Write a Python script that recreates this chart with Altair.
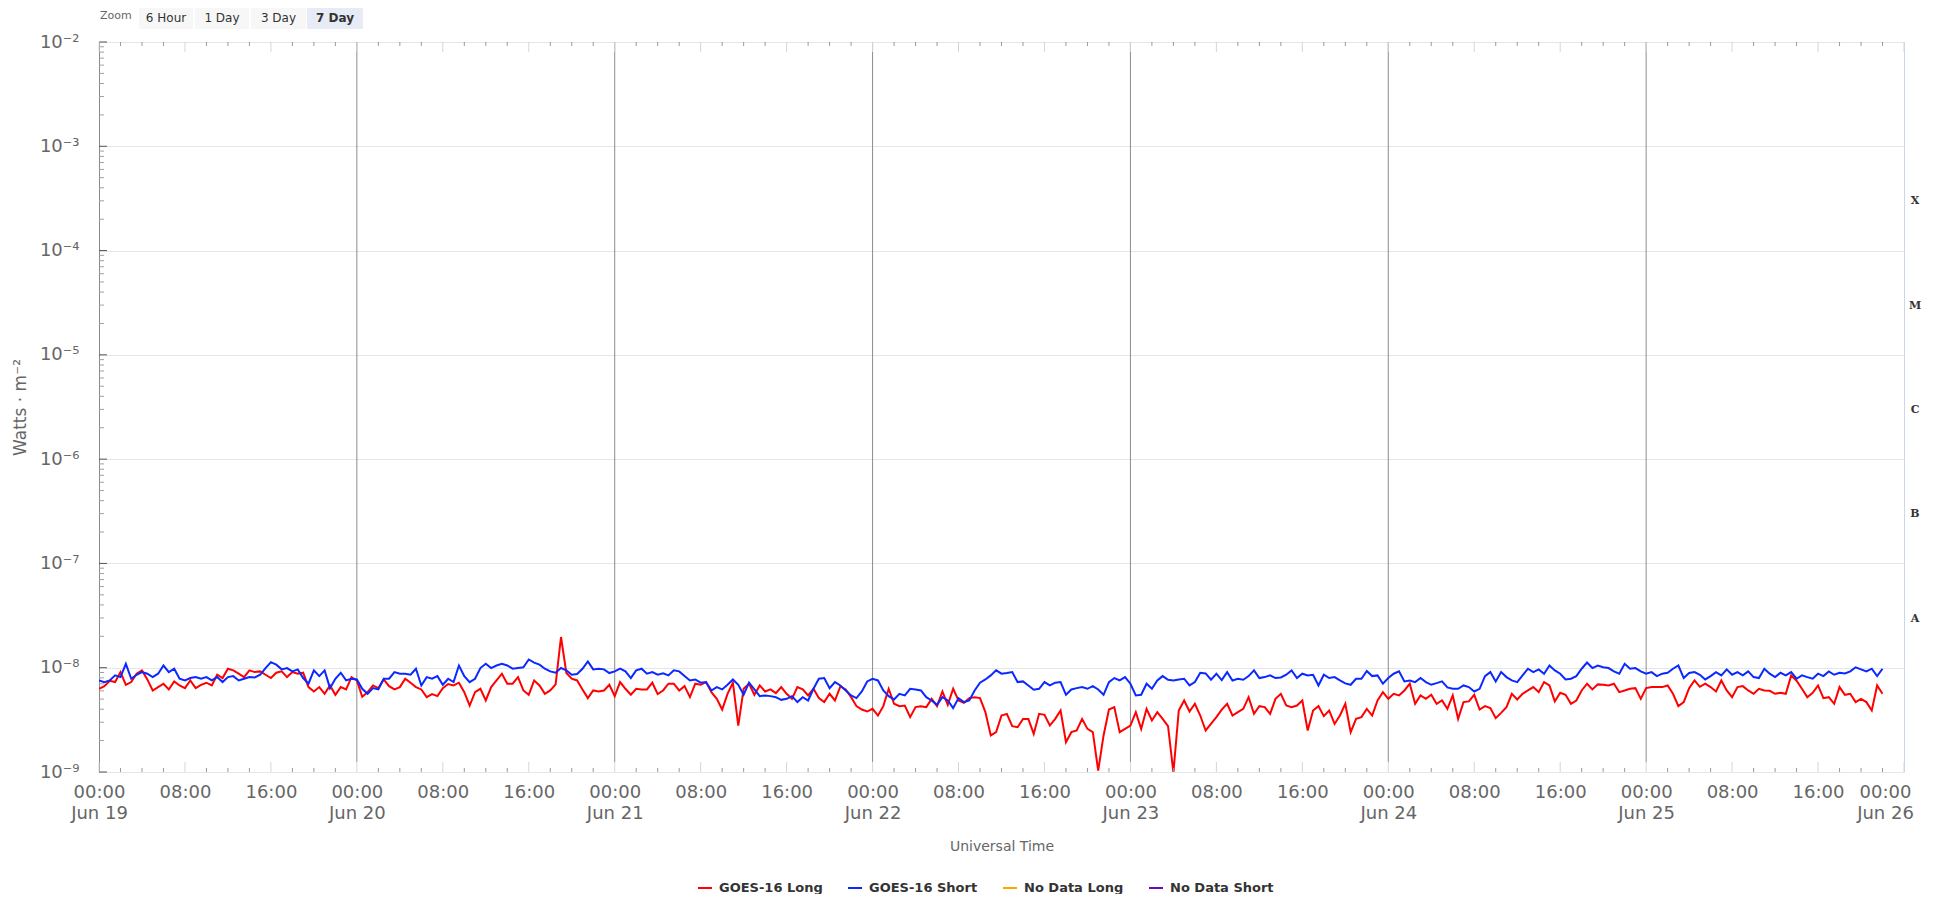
import altair as alt
import pandas as pd

# ---------------- data (X-ray flux, units of 1e-9 W/m^2, 30-minute steps from Jun 19 00:00 UTC) -------------
long_nw = [
    6.28, 6.66, 7.50, 7.28, 9.08, 6.86, 7.28, 8.76, 9.43, 7.72,
    6.05, 6.52, 7.02, 6.19, 7.39, 6.76, 6.37, 7.55, 6.37, 6.86,
    7.18, 6.76, 8.56, 7.96, 9.78, 9.43, 8.76, 8.13, 9.43, 9.08,
    9.22, 8.56, 7.96, 8.95, 9.22, 8.13, 9.08, 8.76, 8.95, 6.52,
    5.92, 6.52, 5.62, 6.76, 5.50, 6.52, 6.19, 8.13, 7.55, 5.26,
    5.83, 6.76, 6.37, 7.72, 6.66, 6.19, 6.52, 7.84, 7.18, 6.52,
    6.19, 5.22, 5.58, 5.34, 6.37, 6.97, 6.76, 7.18, 5.83, 4.34,
    5.83, 6.28, 4.85, 6.52, 7.55, 8.76, 7.02, 7.02, 8.13, 6.05,
    5.50, 7.55, 6.76, 5.62, 6.05, 6.92, 19.7, 8.89, 7.84, 7.55,
    6.19, 5.11, 6.05, 5.92, 6.05, 6.86, 5.34, 7.28, 6.28, 5.50,
    6.28, 6.19, 6.19, 7.18, 5.58, 6.05, 7.02, 7.02, 6.05, 6.66,
    5.22, 7.02, 6.86, 7.28, 5.83, 5.03, 3.97, 5.62, 7.18, 2.79,
    6.28, 7.02, 5.50, 6.76, 5.92, 6.19, 5.71, 6.52, 5.62, 5.03,
    6.52, 6.19, 5.42, 6.28, 5.11, 4.68, 5.62, 4.85, 6.61, 6.19,
    5.22, 4.28, 3.97, 3.80, 4.03, 3.48, 4.28, 6.28, 4.51, 4.28,
    4.34, 3.36, 4.19, 4.28, 4.19, 5.03, 4.28, 5.92, 4.41, 6.28,
    4.85, 4.61, 5.11, 5.22, 5.11, 3.75, 2.24, 2.41, 3.48, 3.61,
    2.75, 2.69, 3.23, 3.23, 2.32, 3.61, 3.53, 2.79, 3.23, 3.89,
    1.93, 2.41, 2.50, 3.23, 2.59, 2.41, 1.03, 2.24, 3.97, 4.19,
    2.41, 2.59, 2.79, 3.75, 2.59, 4.03, 3.12, 3.75, 3.23, 2.75,
    0.99, 3.89, 4.85, 3.80, 4.51, 3.48, 2.50, 2.89, 3.36, 3.97,
    4.51, 3.48, 3.75, 4.03, 5.22, 3.61, 4.28, 4.19, 3.61, 5.03,
    5.62, 4.34, 4.19, 4.34, 4.85, 2.50, 3.89, 4.28, 3.43, 3.89,
    2.89, 3.48, 4.51, 2.41, 3.23, 3.36, 4.03, 3.48, 4.85, 5.83,
    5.03, 5.62, 5.42, 6.05, 7.02, 4.51, 5.42, 5.03, 5.50, 4.51,
    4.85, 4.03, 5.42, 3.23, 4.68, 4.75, 5.50, 3.97, 4.28, 4.10,
    3.28, 3.69, 4.19, 5.62, 4.96, 5.62, 6.05, 6.52, 5.83, 7.28,
    6.76, 4.75, 5.75, 5.50, 4.51, 4.85, 6.05, 7.02, 6.19, 6.92,
    6.86, 6.76, 7.02, 5.83, 6.05, 6.28, 6.37, 5.03, 6.37, 6.52,
    6.52, 6.52, 6.76, 5.62, 4.28, 4.68, 6.37, 7.55, 6.56, 7.02,
    6.52, 5.92, 7.55, 6.05, 5.22, 6.52, 6.66, 6.05, 5.62, 6.28,
    6.05, 6.01, 5.62, 5.75, 5.62, 8.44, 7.50, 6.28, 5.22, 5.75,
    6.76, 5.11, 5.22, 4.51, 6.52, 5.50, 5.62, 4.68, 5.03, 4.68,
    3.89, 6.76, 5.62,
]

short_nw = [
    7.55, 7.28, 7.55, 8.44, 8.13, 10.9, 7.84, 8.56, 9.08, 8.76,
    8.13, 8.76, 10.5, 9.08, 9.78, 7.84, 7.55, 7.96, 8.13, 7.84,
    8.13, 7.55, 8.13, 7.28, 8.13, 8.31, 7.55, 7.84, 8.13, 8.07,
    8.56, 9.93, 11.3, 10.7, 9.64, 9.93, 9.22, 9.64, 7.96, 7.02,
    9.43, 8.31, 9.43, 6.37, 7.84, 8.95, 7.55, 7.84, 7.72, 6.28,
    5.62, 6.37, 6.19, 7.84, 7.84, 9.08, 8.76, 8.76, 8.56, 9.78,
    6.76, 8.13, 7.84, 8.31, 6.86, 7.84, 7.28, 10.5, 8.31, 7.28,
    7.84, 9.93, 10.9, 9.93, 10.5, 10.9, 10.5, 9.78, 9.93, 10.1,
    12.0, 11.2, 10.7, 9.78, 9.22, 8.95, 9.93, 9.43, 8.56, 8.69,
    9.78, 11.5, 9.64, 9.78, 9.64, 8.89, 9.22, 9.78, 9.22, 7.96,
    9.43, 9.78, 8.76, 9.08, 8.56, 8.82, 8.44, 9.43, 9.22, 8.31,
    7.55, 7.72, 7.18, 7.28, 6.05, 6.52, 6.19, 6.86, 7.72, 6.86,
    5.50, 7.18, 6.19, 5.34, 5.42, 5.34, 5.22, 4.92, 5.03, 5.34,
    4.68, 5.22, 4.85, 6.28, 7.84, 7.96, 6.37, 7.28, 6.76, 6.05,
    5.42, 5.11, 5.92, 7.39, 7.84, 7.55, 6.05, 5.34, 4.96, 5.62,
    5.42, 6.28, 6.19, 6.05, 5.22, 4.85, 4.41, 5.22, 4.85, 4.10,
    5.11, 4.68, 4.85, 6.05, 7.18, 7.72, 8.44, 9.43, 8.76, 8.89,
    9.08, 7.28, 7.39, 6.76, 6.14, 6.28, 7.28, 6.76, 7.18, 7.28,
    5.50, 6.19, 6.37, 6.52, 6.28, 6.66, 6.19, 5.50, 7.28, 7.96,
    7.55, 8.13, 7.02, 5.42, 5.50, 7.02, 6.28, 7.55, 8.31, 7.67,
    7.55, 7.72, 7.84, 6.76, 7.28, 8.95, 8.82, 7.67, 8.76, 7.61,
    9.08, 7.55, 7.84, 7.67, 8.31, 9.43, 7.96, 8.13, 8.44, 7.96,
    8.07, 8.56, 9.43, 7.96, 8.76, 8.44, 8.56, 6.76, 8.56, 7.96,
    8.13, 7.55, 7.07, 6.86, 7.84, 7.84, 9.29, 8.31, 8.44, 7.02,
    7.96, 8.76, 9.22, 7.39, 7.55, 7.28, 7.96, 7.28, 6.86, 7.12,
    7.39, 6.47, 6.28, 6.28, 6.76, 6.52, 5.92, 6.28, 8.31, 9.08,
    7.39, 9.08, 8.13, 7.55, 7.28, 8.44, 9.78, 9.08, 9.64, 8.76,
    10.5, 9.43, 8.76, 7.72, 7.84, 8.31, 9.78, 11.2, 9.93, 10.5,
    10.1, 9.93, 9.22, 8.76, 10.9, 9.78, 9.93, 9.22, 8.76, 9.08,
    8.31, 8.76, 8.95, 9.78, 10.5, 7.96, 8.89, 9.08, 8.56, 7.72,
    8.31, 9.08, 8.44, 9.64, 8.56, 9.08, 8.44, 9.22, 8.13, 7.96,
    9.78, 8.76, 8.13, 8.95, 8.44, 9.08, 7.84, 8.44, 8.13, 7.84,
    8.76, 8.31, 9.22, 8.56, 8.95, 8.82, 9.22, 10.1, 9.64, 9.22,
    9.78, 8.31, 9.78,
]

SERIES = ["GOES-16 Long", "GOES-16 Short", "No Data Long", "No Data Short"]
COLORS = ["#ff0000", "#0a28ff", "#ffa500", "#6a0dad"]
FLARE_CLASSES = ["A", "B", "C", "M", "X"]
CLASS_FLUX = [10 ** -7.5, 10 ** -6.5, 10 ** -5.5, 10 ** -4.5, 10 ** -3.5]
DECADES = [1e-9, 1e-8, 1e-7, 1e-6, 1e-5, 1e-4, 1e-3, 1e-2]
Y_TITLE = "Watts · m⁻²"
X_TITLE = "Universal Time"
BUTTONS = ["6 Hour", "1 Day", "3 Day", "7 Day"]

# ---------------- tables ----------------
times = pd.date_range("2023-06-19 00:00", periods=len(long_nw), freq="30min")
tstr = [t.strftime("%Y-%m-%dT%H:%M:%SZ") for t in times]
df = pd.DataFrame({
    "time": tstr * 2,
    "flux": [v * 1e-9 for v in long_nw] + [v * 1e-9 for v in short_nw],
    "series": [SERIES[0]] * len(long_nw) + [SERIES[1]] * len(short_nw),
})

day_times = [t.strftime("%Y-%m-%dT%H:%M:%SZ") for t in pd.date_range("2023-06-20", periods=6, freq="1D")]
day_df = pd.DataFrame({"time": day_times, "flux": [1.25e-9] * 6, "hi": [1e-2] * 6})

major_x = [t.strftime("%Y-%m-%dT%H:%M:%SZ") for t in pd.date_range("2023-06-19", "2023-06-26", freq="8h")]
minor_x = [t.strftime("%Y-%m-%dT%H:%M:%SZ") for t in pd.date_range("2023-06-19", "2023-06-26", freq="2h")]
minor_x = [t for t in minor_x if t not in major_x]
minor_y = [m * 10 ** d for d in range(-9, -2) for m in range(2, 10)]

W, H = 1805, 730
FONT = "DejaVu Sans"

xscale = alt.Scale(type="utc",
                   domain=[alt.DateTime(year=2023, month=6, date=19, utc=True),
                           alt.DateTime(year=2023, month=6, date=26, utc=True)])
yscale = alt.Scale(type="log", domain=[1e-9, 1e-2])

x_axis = alt.Axis(
    values=[alt.DateTime(year=2023, month=6, date=19 + h // 24, hours=h % 24, utc=True) for h in range(0, 169, 8)],
    labelExpr="utchours(datum.value) == 0 ? [utcFormat(datum.value, '%H:%M'), utcFormat(datum.value, '%b %d')] : utcFormat(datum.value, '%H:%M')",
    labelFont=FONT, labelFontSize=18, labelColor="#666666", labelLineHeight=21,
    labelPadding=11, labelOverlap=False, labelFlush=False, ticks=False, domain=False, grid=False,
    labelOffset={"condition": {"test": "utcdate(datum.value) == 26", "value": -19}, "value": 0},
    title=X_TITLE, titleFont=FONT, titleFontSize=14, titleFontWeight="normal",
    titleColor="#666666", titlePadding=17,
)
y_axis = alt.Axis(
    values=DECADES,
    labelExpr="'10' + ['⁻⁹','⁻⁸','⁻⁷','⁻⁶','⁻⁵','⁻⁴','⁻³','⁻²'][round(log(datum.value) / LN10) + 9]",
    labelFont=FONT, labelFontSize=18, labelColor="#666666", labelPadding=20,
    labelOverlap=False, ticks=False, domain=True, domainColor="#8a8a8a",
    grid=True, gridColor="#e6e6e6",
    title=Y_TITLE, titleFont=FONT, titleFontSize=17, titleFontWeight="normal",
    titleColor="#666666", titlePadding=10,
)

X = alt.X("time:T", scale=xscale, axis=x_axis)
Yf = alt.Y("flux:Q", scale=yscale, axis=y_axis)

daylines = alt.Chart(day_df).mark_rule(color="#8c8c8c", strokeWidth=1).encode(
    x=X, y=Yf, y2="hi:Q",
)

lines = alt.Chart(df).mark_line(strokeWidth=2, clip=True).encode(
    x=X, y=Yf,
    color=alt.Color("series:N",
                    scale=alt.Scale(domain=SERIES, range=COLORS),
                    legend=alt.Legend(orient="none", legendX=598, legendY=838,
                                      direction="horizontal", title=None,
                                      symbolType="stroke", symbolStrokeWidth=2, symbolSize=196,
                                      labelFont=FONT, labelFontSize=13, labelFontWeight="bold",
                                      labelColor="#333333", columnPadding=21, labelOffset=6)),
)

ymajor = alt.Chart(pd.DataFrame({"flux": DECADES})).mark_rule(color="#555555").encode(
    y=Yf, x=alt.value(0), x2=alt.value(8))
yminor = alt.Chart(pd.DataFrame({"flux": minor_y})).mark_rule(color="#a0a0a0").encode(
    y=Yf, x=alt.value(0), x2=alt.value(5))

xmaj_df = pd.DataFrame({"time": major_x})
xmin_df = pd.DataFrame({"time": minor_x})
xmaj_bot = alt.Chart(xmaj_df).mark_rule(color="#ccd6eb").encode(
    x=X, y=alt.value(H), y2=alt.value(H - 10))
xmaj_top = alt.Chart(xmaj_df).mark_rule(color="#ccd6eb").encode(
    x=X, y=alt.value(0), y2=alt.value(10))
xmin_bot = alt.Chart(xmin_df).mark_rule(color="#999999").encode(
    x=X, y=alt.value(H), y2=alt.value(H - 4))
xmin_top = alt.Chart(xmin_df).mark_rule(color="#999999").encode(
    x=X, y=alt.value(0), y2=alt.value(4))

letters = alt.Chart(pd.DataFrame({"cls": FLARE_CLASSES, "flux": CLASS_FLUX})).mark_text(
    font="DejaVu Serif", fontSize=11, fontWeight="bold", color="#333333", baseline="middle", dy=3
).encode(x=alt.value(W + 11), y=Yf, text="cls:N")

one = alt.Data(values=[{"k": 1}])
ui = [alt.Chart(one).mark_text(font=FONT, fontSize=11, color="#666666", align="left", baseline="middle",
                               text="Zoom").encode(x=alt.value(1), y=alt.value(-26))]
btn_x = [(40, 94), (96, 150), (152, 207), (208, 264)]
for label, (x0, x1) in zip(BUTTONS, btn_x):
    sel = label == "7 Day"
    ui.append(alt.Chart(one).mark_rect(color="#e6ebf5" if sel else "#f7f7f7").encode(
        x=alt.value(x0), x2=alt.value(x1), y=alt.value(-34), y2=alt.value(-13)))
    ui.append(alt.Chart(one).mark_text(font=FONT, fontSize=12, color="#333333",
                                       fontWeight="bold" if sel else "normal",
                                       align="center", baseline="middle", text=label).encode(
        x=alt.value((x0 + x1) / 2), y=alt.value(-24)))

chart = alt.layer(daylines, lines, yminor, ymajor, xmin_bot, xmin_top, xmaj_bot, xmaj_top, letters, *ui).properties(
    width=W, height=H,
    autosize=alt.AutoSizeParams(type="none"),
    padding={"left": 91, "top": 34, "right": 30, "bottom": 122},
    background="white",
).configure_view(stroke="#ccd6eb", strokeWidth=1)

chart.save("out.html", embed_options={"renderer": "svg", "actions": False})
